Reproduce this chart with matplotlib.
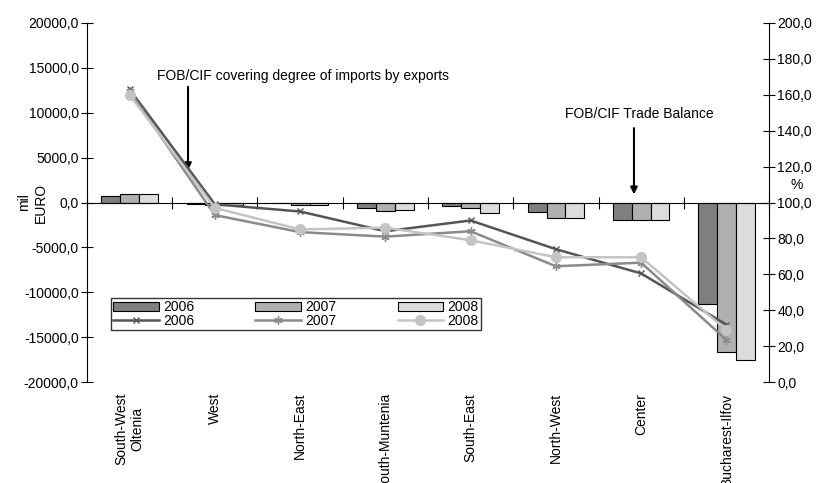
import numpy as np
import matplotlib.pyplot as plt
from matplotlib.ticker import FuncFormatter, FixedLocator

plt.rcParams['font.family'] = ['Liberation Sans', 'DejaVu Sans']

# ------------------------
# Dane
# ------------------------
regions = ["South-West\nOltenia", "West", "North-East", "South-Muntenia",
           "South-East", "North-West", "Center", "Bucharest-Ilfov"]
years = ["2006", "2007", "2008"]

# bilans handlowy FOB/CIF (mil EURO)
balance_2006 = [700, -200, -100, -650, -400, -1100, -2000, -11300]
balance_2007 = [1000, -300, -300, -1000, -600, -1750, -1900, -16650]
balance_2008 = [1000, -300, -300, -850, -1200, -1750, -1900, -17550]

# stopien pokrycia importu eksportem (%)
cover_2006 = [163.0, 99.0, 95.0, 84.0, 90.0, 74.0, 60.5, 32.0]
cover_2007 = [162.0, 93.0, 83.5, 81.0, 84.0, 64.5, 66.5, 23.5]
cover_2008 = [160.0, 97.0, 85.0, 86.0, 79.0, 69.5, 69.5, 29.0]

bar_colors = ["#7f7f7f", "#b0b0b0", "#dcdcdc"]
line_colors = ["#555555", "#8a8a8a", "#c4c4c4"]

# ------------------------
# Rysunek
# ------------------------
fig = plt.figure(figsize=(8.23, 4.83), dpi=100)
ax = fig.add_axes([0.1057, 0.209, 0.8287, 0.7434])
ax2 = ax.twinx()

x = np.arange(len(regions))
w = 0.22
bars = []
for k, vals in enumerate([balance_2006, balance_2007, balance_2008]):
    b = ax.bar(x + (k - 1) * w, vals, w, color=bar_colors[k], edgecolor="black",
               linewidth=0.8, label=years[k], zorder=2)
    bars.append(b)

lines = []
markers = [dict(marker="x", ms=5), dict(marker=(6, 2, 0), ms=6), dict(marker="o", ms=7)]
for k, vals in enumerate([cover_2006, cover_2007, cover_2008]):
    l, = ax2.plot(x, vals, color=line_colors[k], lw=1.8, mec=line_colors[k],
                  mfc=line_colors[k], label=years[k], **markers[k])
    lines.append(l)

ax.set_xlim(-0.5, len(regions) - 0.5)
ax.set_ylim(-20000, 20000)
ax2.set_ylim(0, 200)
ax.set_yticks(np.arange(-20000, 20001, 5000))
ax2.set_yticks(np.arange(0, 201, 20))
ax.yaxis.set_major_formatter(FuncFormatter(lambda v, p: ("%.1f" % v).replace(".", ",")))
ax2.yaxis.set_major_formatter(FuncFormatter(lambda v, p: ("%.1f" % v).replace(".", ",")))

for a in (ax, ax2):
    a.spines["top"].set_visible(False)
    a.spines["bottom"].set_position(("data", 0))
    a.patch.set_visible(False)
ax2.spines["bottom"].set_visible(False)
ax.spines["right"].set_visible(False)
ax2.spines["left"].set_visible(False)

ax.xaxis.set_major_locator(FixedLocator(np.arange(-0.5, len(regions), 1.0)))
ax.tick_params(axis="x", direction="inout", length=8, labelbottom=False)
ax.tick_params(axis="y", direction="inout", length=8, labelsize=10, pad=2)
ax2.tick_params(axis="y", direction="inout", length=8, labelsize=10, pad=2)
ax2.xaxis.set_visible(False)

for i, name in enumerate(regions):
    ax.text(i, -0.03, name, rotation=90, ha="center", va="top", fontsize=10,
            transform=ax.get_xaxis_transform(), multialignment="center")

ax.text(-0.08, 0.5, "mil\nEURO", rotation=90, ha="center", va="center",
        fontsize=10, transform=ax.transAxes)
ax2.text(1.04, 0.55, "%", ha="center", va="center", fontsize=10, transform=ax2.transAxes)

# adnotacje
ax.annotate("", xy=(0.685, 3300), xytext=(0.685, 13200),
            arrowprops=dict(arrowstyle="-|>", color="black", lw=1.5, mutation_scale=10))
ax.text(0.32, 14050, "FOB/CIF covering degree of imports by exports", fontsize=10,
        ha="left", va="center")
ax.annotate("", xy=(5.916, 600), xytext=(5.916, 8600),
            arrowprops=dict(arrowstyle="-|>", color="black", lw=1.5, mutation_scale=10))
ax.text(5.107, 9820, "FOB/CIF Trade Balance", fontsize=10, ha="left", va="center")

handles = [bars[0], lines[0], bars[1], lines[1], bars[2], lines[2]]
labels = [years[0], years[0], years[1], years[1], years[2], years[2]]
leg = ax2.legend(handles, labels, ncol=3, loc="upper left", bbox_to_anchor=(0.025, 0.2535),
                 fontsize=10, frameon=True, fancybox=False, edgecolor="black",
                 labelspacing=0.0, handlelength=3.3, handleheight=0.6,
                 handletextpad=0.3, columnspacing=4.4, borderpad=0.15)
leg.get_frame().set_linewidth(1.0)

fig.savefig("out.png", dpi=100)
